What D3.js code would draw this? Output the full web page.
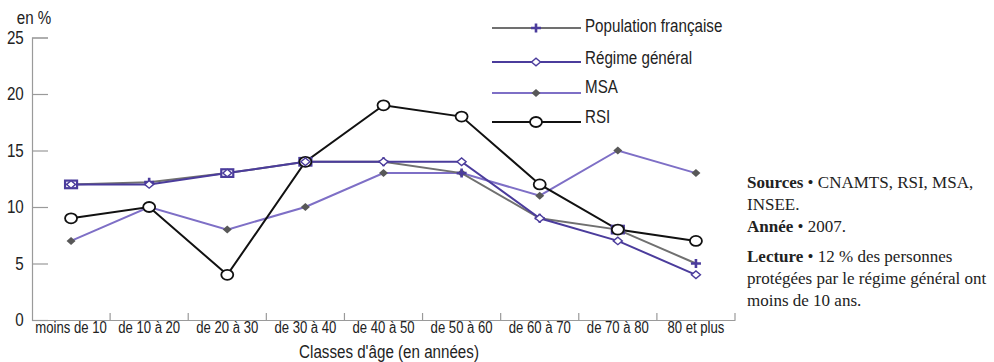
<!DOCTYPE html>
<html>
<head>
<meta charset="utf-8">
<script src="https://cdn.jsdelivr.net/npm/d3@7"></script>
<style>
  html, body { margin: 0; padding: 0; background: #fff; }
  svg { display: block; }
  .sans { font-family: "Liberation Sans", Arial, sans-serif; fill: #222; }
  .serif { font-family: "Liberation Serif", "DejaVu Serif", serif; fill: #222; }
</style>
</head>
<body>
<svg id="chart" width="994" height="362"></svg>
<script>
const categories = ["moins de 10", "de 10 à 20", "de 20 à 30", "de 30 à 40", "de 40 à 50", "de 50 à 60", "de 60 à 70", "de 70 à 80", "80 et plus"];
const populationFrancaise = [12, 12.2, 13, 14, 14, 13, 9, 8, 5];
const regimeGeneral = [12, 12, 13, 14, 14, 14, 9, 7, 4];
const msa = [7, 10, 8, 10, 13, 13, 11, 15, 13];
const rsi = [9, 10, 4, 14, 19, 18, 12, 8, 7];
const yTicks = [0, 5, 10, 15, 20, 25];
const seriesNames = ["Population française", "Régime général", "MSA", "RSI"];
// categories where the original shows the population marker as a box
const boxedPopulationPoints = ["moins de 10", "de 20 à 30", "de 30 à 40", "de 70 à 80"];

const NARROW = 0.82;
const svg = d3.select("#chart");
const x = d3.scaleBand().domain(categories).range([32, 735]);
const y = d3.scaleLinear().domain([0, 25]).range([320, 37.5]);

const axisColor = "#9a9a9a";

function narrowText(parent, px, py, str, size, anchor) {
  return parent.append("text").attr("class", "sans")
    .attr("transform", `translate(${px},${py}) scale(${NARROW},1)`)
    .attr("text-anchor", anchor || "start")
    .style("font-size", size + "px").text(str);
}

// Y axis
const yAxis = d3.axisLeft(y).tickValues(yTicks).tickSize(-16).tickPadding(10).tickFormat(d3.format("d"));
const gy = svg.append("g").attr("transform", "translate(32,0)").call(yAxis);
gy.select(".domain").attr("stroke", axisColor).attr("stroke-width", 1.2);
gy.selectAll(".tick line").attr("stroke", axisColor).attr("stroke-width", 1.2);
gy.selectAll(".tick text").attr("class", "sans").style("font-size", "18.5px").attr("fill", "#222")
  .attr("transform", `scale(${NARROW},1)`);

narrowText(svg, 34, 24, "en %", 18.5, "middle");

// X axis
const xAxis = d3.axisBottom(x).tickSize(0).tickPadding(2);
const gx = svg.append("g").attr("transform", "translate(0,320)").call(xAxis);
gx.select(".domain").attr("stroke", axisColor).attr("stroke-width", 1.2);
gx.selectAll(".tick text").attr("class", "sans").style("font-size", "16px").attr("fill", "#222")
  .attr("transform", `scale(${NARROW},1)`);
const bounds = categories.map(c => x(c)).concat([x.range()[1]]).slice(1);
gx.selectAll(".bound").data(bounds).enter().append("line")
  .attr("x1", d => d).attr("x2", d => d).attr("y1", 0).attr("y2", -7)
  .attr("stroke", axisColor).attr("stroke-width", 1.2);

narrowText(svg, 389, 358, "Classes d'âge (en années)", 18.5, "middle");

const cx = (d, i) => x(categories[i]) + x.bandwidth() / 2;
const line = d3.line().x((d, i) => cx(d, i)).y(d => y(d));

const purple = "#4b3c9c";
const lightPurple = "#7e6fc6";
const grayLine = "#707070";

const series = [
  { name: seriesNames[2], data: msa, color: lightPurple, marker: "diamondFill" },
  { name: seriesNames[0], data: populationFrancaise, color: grayLine, marker: "plus" },
  { name: seriesNames[3], data: rsi, color: "#111", marker: "circle" },
  { name: seriesNames[1], data: regimeGeneral, color: purple, marker: "diamond" }
];

function drawMarker(g, type, px, py, boxed) {
  if (type === "plus") {
    if (boxed) {
      g.append("rect").attr("x", px - 6).attr("y", py - 3.8).attr("width", 12).attr("height", 7.6)
        .attr("stroke", purple).attr("stroke-width", 2.2).attr("fill", "#fff");
    } else {
      g.append("path").attr("d", `M${px-5},${py}H${px+5}M${px},${py-4.5}V${py+4.5}`)
        .attr("stroke", purple).attr("stroke-width", 2.6).attr("fill", "none");
    }
  } else if (type === "diamond") {
    g.append("path").attr("d", `M${px-4.5},${py}L${px},${py-3.8}L${px+4.5},${py}L${px},${py+3.8}Z`)
      .attr("stroke", purple).attr("stroke-width", 1.4).attr("fill", "#fff");
  } else if (type === "diamondFill") {
    g.append("path").attr("d", `M${px-4.5},${py}L${px},${py-4}L${px+4.5},${py}L${px},${py+4}Z`)
      .attr("fill", "#585858");
  } else if (type === "circle") {
    g.append("ellipse").attr("cx", px).attr("cy", py).attr("rx", 6).attr("ry", 5)
      .attr("stroke", "#111").attr("stroke-width", 1.8).attr("fill", "#fff");
  }
}

series.forEach(s => {
  svg.append("path").datum(s.data).attr("d", line)
    .attr("fill", "none").attr("stroke", s.color).attr("stroke-width", 2);
});
series.forEach(s => {
  const g = svg.append("g");
  s.data.forEach((d, i) => {
    const boxed = s.marker === "plus" && boxedPopulationPoints.includes(categories[i]);
    drawMarker(g, s.marker, cx(d, i), y(d), boxed);
  });
});

// Legend
const legendRows = [
  { name: seriesNames[0], color: grayLine, marker: "plus", ly: 28, ty: 32 },
  { name: seriesNames[1], color: purple, marker: "diamond", ly: 62, ty: 64 },
  { name: seriesNames[2], color: lightPurple, marker: "diamondFill", ly: 93, ty: 92.5 },
  { name: seriesNames[3], color: "#111", marker: "circle", ly: 122, ty: 122.5 }
];
legendRows.forEach(r => {
  const g = svg.append("g");
  g.append("line").attr("x1", 492).attr("x2", 581).attr("y1", r.ly).attr("y2", r.ly)
    .attr("stroke", r.color).attr("stroke-width", 2);
  drawMarker(g, r.marker, 536, r.ly, false);
  narrowText(g, 585, r.ty, r.name, 18.5, "start");
});

// Notes
const notes = [
  { y: 188, parts: [["Sources", true], [" • CNAMTS, RSI, MSA,", false]] },
  { y: 210, parts: [["INSEE.", false]] },
  { y: 232, parts: [["Année", true], [" • 2007.", false]] },
  { y: 262, parts: [["Lecture", true], [" • 12 % des personnes", false]] },
  { y: 284, parts: [["protégées par le régime général ont", false]] },
  { y: 306, parts: [["moins de 10 ans.", false]] }
];
notes.forEach(n => {
  const t = svg.append("text").attr("class", "serif").attr("x", 747).attr("y", n.y).style("font-size", "17px");
  n.parts.forEach(p => t.append("tspan").attr("font-weight", p[1] ? "bold" : "normal").text(p[0]));
});
</script>
</body>
</html>
